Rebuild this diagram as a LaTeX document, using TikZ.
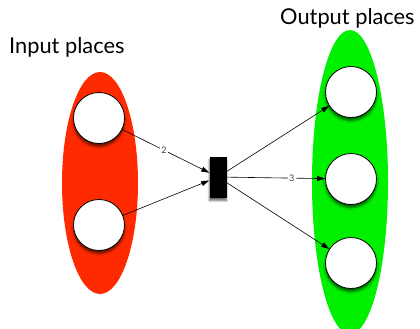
\documentclass[tikz,border=0pt]{standalone}
\usepackage{fontspec}
\setmainfont{Lato}
\usetikzlibrary{arrows.meta,shadows,shadows.blur}
\definecolor{inred}{RGB}{255,42,0}
\definecolor{outgreen}{RGB}{0,240,0}
\tikzset{
  place/.style={circle,draw=black,line width=0.8pt,fill=white,minimum size=51pt,inner sep=0pt,
    blur shadow={shadow xshift=0pt,shadow yshift=-3pt,shadow blur steps=6,shadow opacity=60}},
  trans/.style={rectangle,fill=black,minimum width=17pt,minimum height=41pt,inner sep=0pt,
    blur shadow={shadow xshift=0pt,shadow yshift=-3pt,shadow blur steps=6,shadow opacity=60}},
  arc/.style={line width=0.6pt,-{Triangle[length=8pt,width=5pt]}},
  weight/.style={fill=white,inner sep=1.5pt,font=\fontsize{9}{9}\selectfont,text=black!75},
  group/.style={ellipse,inner sep=0pt},
  title/.style={anchor=base west,inner sep=0pt,font=\fontsize{21.8}{22}\selectfont}
}
\begin{document}
\begin{tikzpicture}[x=1pt,y=-1pt]
\useasboundingbox (0,0) rectangle (420,329);
\fill[inred] (100,183) ellipse [x radius=38, y radius=111];
\fill[outgreen] (350,182) ellipse [x radius=38, y radius=152];
\node[title] (tin) at (9,53) {Input places};
\node[title] (tout) at (280,25) {Output places};
\node[place] (in1) at (99,118) {};
\node[place] (in2) at (99,225) {};
\node[place] (o1) at (351,92) {};
\node[place] (o2) at (351,179) {};
\node[place] (o3) at (351,263) {};
\node[trans] (t) at (218,177) {};
\draw[arc] (in1) -- node[weight,pos=0.48] {2} (t);
\draw[arc] (in2) -- (t);
\draw[arc] (t) -- (o1);
\draw[arc] (t) -- node[weight,pos=0.66] {3} (o2);
\draw[arc] (t) -- (o3);
\end{tikzpicture}
\end{document}
